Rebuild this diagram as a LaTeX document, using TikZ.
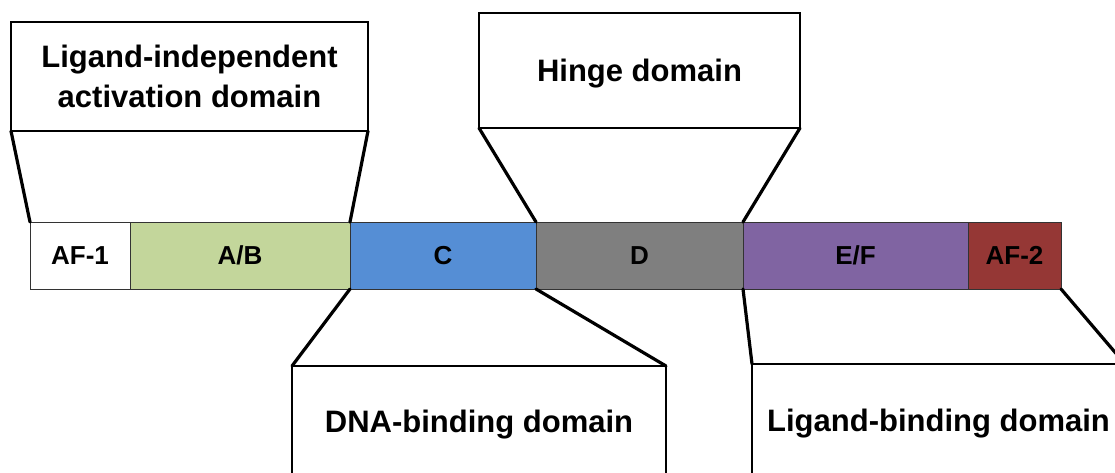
\documentclass[tikz,border=0pt]{standalone}
\usepackage{fontspec}
\setmainfont{Liberation Sans}
\definecolor{cgreen}{HTML}{C3D69B}
\definecolor{cblue}{HTML}{558ED5}
\definecolor{cgray}{HTML}{7F7F7F}
\definecolor{cpurple}{HTML}{8064A2}
\definecolor{cred}{HTML}{953735}
\definecolor{cedge}{HTML}{333333}
\tikzset{
  seg/.style={draw=cedge, line width=0.8pt, anchor=north west, minimum height=67pt, inner sep=0pt, outer sep=0pt,
    font=\fontsize{26}{30}\selectfont\bfseries},
  bigbox/.style={draw=black, line width=2.6pt, fill=white, inner sep=0pt, outer sep=0pt, align=center,
    text depth=0pt, font=\fontsize{31}{40}\selectfont\bfseries},
  link/.style={line width=3.2pt, line cap=round}
}
\begin{document}
\begin{tikzpicture}[x=1pt,y=-1pt]
\useasboundingbox (0,0) rectangle (1115,473);
\clip (0,0) rectangle (1115,473);
% bar segments
\node[seg, fill=white,   minimum width=100pt] (af1) at (30,222)  {AF-1};
\node[seg, fill=cgreen,  minimum width=220pt] (ab)  at (130,222) {A/B};
\node[seg, fill=cblue,   minimum width=186pt] (c)   at (350,222) {C};
\node[seg, fill=cgray,   minimum width=207pt] (d)   at (536,222) {D};
\node[seg, fill=cpurple, minimum width=225pt] (ef)  at (743,222) {E/F};
\node[seg, fill=cred,    minimum width=93pt]  (af2) at (968,222) {AF-2};
% boxes
\node[bigbox, minimum width=357pt, minimum height=109pt] (lid) at (189.5,76.5) {Ligand-independent\\activation domain};
\node[bigbox, minimum width=321pt, minimum height=115pt] (hin) at (639.5,70.5) {Hinge domain};
\node[bigbox, minimum width=374pt, minimum height=110pt] (dna) at (479,421) {DNA-binding domain};
\node[bigbox, minimum width=373pt, minimum height=112pt] (lbd) at (938.5,420) {Ligand-binding domain};
% connectors
\draw[link] (lid.south west) -- (af1.north west);
\draw[link] (lid.south east) -- (ab.north east);
\draw[link] (hin.south west) -- (d.north west);
\draw[link] (hin.south east) -- (d.north east);
\draw[link] (c.south west) -- (dna.north west);
\draw[link] (c.south east) -- (dna.north east);
\draw[link] (ef.south west) -- (lbd.north west);
\draw[link] (af2.south east) -- (lbd.north east);
\end{tikzpicture}
\end{document}
